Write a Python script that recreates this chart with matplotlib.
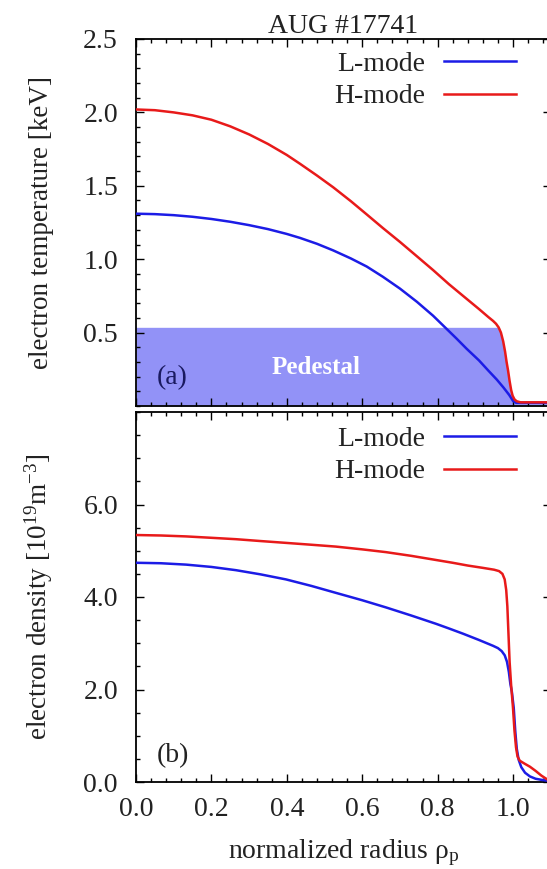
import numpy as np
import matplotlib
matplotlib.use("Agg")
import matplotlib.pyplot as plt
from matplotlib.ticker import MultipleLocator, FormatStrFormatter

# ---------------- data ----------------
title = "AUG #17741"
series_names = ["L-mode", "H-mode"]

# (a) electron temperature [keV]
rho_te_l = [0.0, 0.05, 0.1, 0.15, 0.2, 0.25, 0.3, 0.35, 0.4, 0.435, 0.48,
            0.523, 0.57, 0.612, 0.655, 0.70, 0.745, 0.788, 0.824, 0.85, 0.877,
            0.91, 0.935, 0.957, 0.975, 0.99, 1.0, 1.008, 1.1]
te_l = [1.31, 1.307, 1.30, 1.289, 1.274, 1.255, 1.232, 1.205, 1.172, 1.145,
        1.105, 1.06, 1.005, 0.95, 0.88, 0.80, 0.71, 0.615, 0.525, 0.46, 0.39,
        0.31, 0.24, 0.18, 0.125, 0.075, 0.035, 0.022, 0.022]

rho_te_h = [0.0, 0.05, 0.1, 0.15, 0.2, 0.25, 0.3, 0.35, 0.4, 0.435, 0.48,
            0.523, 0.57, 0.612, 0.655, 0.70, 0.745, 0.788, 0.83, 0.877, 0.91,
            0.935, 0.947, 0.955, 0.962, 0.968, 0.974, 0.979, 0.983, 0.987,
            0.991, 0.995, 0.999, 1.004, 1.01, 1.02, 1.1]
te_h = [2.02, 2.015, 2.00, 1.98, 1.95, 1.905, 1.85, 1.785, 1.71, 1.65, 1.57,
        1.49, 1.395, 1.305, 1.212, 1.118, 1.02, 0.926, 0.83, 0.73, 0.66,
        0.605, 0.58, 0.56, 0.535, 0.50, 0.44, 0.37, 0.30, 0.24,
        0.17, 0.11, 0.07, 0.045, 0.032, 0.025, 0.025]

pedestal_top = 0.536
pedestal_label = "Pedestal"

# (b) electron density [1e19 m^-3]
rho_ne_l = [0.0, 0.066, 0.133, 0.2, 0.265, 0.33, 0.398, 0.465, 0.53, 0.6,
            0.663, 0.73, 0.796, 0.83, 0.868, 0.91, 0.947, 0.96, 0.97, 0.978,
            0.984, 0.989, 0.993, 0.997, 1.002, 1.006, 1.01, 1.015, 1.022,
            1.032, 1.045, 1.06, 1.08, 1.1]
ne_l = [4.74, 4.73, 4.70, 4.65, 4.58, 4.49, 4.38, 4.24, 4.09, 3.93,
        3.775, 3.60, 3.42, 3.32, 3.205, 3.07, 2.945, 2.895, 2.83, 2.74,
        2.60, 2.38, 2.12, 1.95, 1.6, 1.1, 0.72, 0.48, 0.32,
        0.20, 0.12, 0.07, 0.04, 0.02]

rho_ne_h = [0.0, 0.066, 0.133, 0.2, 0.265, 0.33, 0.398, 0.465, 0.53, 0.6,
            0.663, 0.73, 0.796, 0.84, 0.88, 0.92, 0.95, 0.963, 0.972, 0.978,
            0.982, 0.985, 0.988, 0.991, 0.995, 1.0, 1.004, 1.008, 1.012,
            1.018, 1.03, 1.045, 1.06, 1.075, 1.09, 1.1]
ne_h = [5.34, 5.33, 5.31, 5.28, 5.25, 5.21, 5.17, 5.13, 5.09, 5.03,
        4.97, 4.89, 4.80, 4.74, 4.68, 4.63, 4.59, 4.56, 4.50, 4.38,
        4.15, 3.8, 3.2, 2.6, 2.1, 1.6, 1.1, 0.75, 0.55,
        0.46, 0.40, 0.33, 0.24, 0.14, 0.06, 0.03]

te_ticks = [0.5, 1.0, 1.5, 2.0, 2.5]
ne_ticks = [0.0, 2.0, 4.0, 6.0]
x_ticks = [0.0, 0.2, 0.4, 0.6, 0.8, 1.0]

# ---------------- style ----------------
plt.rcParams["font.family"] = ["Liberation Serif", "DejaVu Serif"]
plt.rcParams["mathtext.fontset"] = "custom"
plt.rcParams["mathtext.rm"] = "Liberation Serif"
plt.rcParams["mathtext.it"] = "Liberation Serif:italic"
plt.rcParams["mathtext.bf"] = "Liberation Serif:bold"

FS = 20
FS_Y = 19.5
BLUE = "#1c1ce6"
RED = "#e81a1a"
SHADE = "#9292f7"
TXT = "#222222"
LW = 1.8

W, H = 547, 869
fig = plt.figure(figsize=(W / 100, H / 100), dpi=100)


def rect(l, t, r, b):
    return [l / W, 1 - b / H, (r - l) / W, (b - t) / H]


ax1 = fig.add_axes(rect(136, 39, 550.7, 406))
ax2 = fig.add_axes(rect(136, 412, 550.7, 782))

for ax in (ax1, ax2):
    ax.set_xlim(0, 1.1)
    ax.set_xticks(x_ticks)
    ax.xaxis.set_minor_locator(MultipleLocator(0.04))
    ax.tick_params(which="both", direction="in", top=True, right=True,
                   colors="black", labelcolor=TXT, labelsize=FS, width=1.0)
    ax.tick_params(which="major", length=6)
    ax.tick_params(which="minor", length=3)
    ax.tick_params(axis="y", which="major", pad=13)
    ax.tick_params(axis="x", which="major", pad=11)
    for s in ax.spines.values():
        s.set_linewidth(1.3)

leg_kw = dict(loc="upper right", frameon=False, markerfirst=False,
              handlelength=2.6, handletextpad=0.68, labelspacing=0.27,
              borderpad=0, borderaxespad=0, fontsize=FS, labelcolor=TXT)

# ---- panel (a)
rte = np.array(rho_te_h)
ax1.fill_between(rte, 0, np.minimum(np.array(te_h), pedestal_top),
                 color=SHADE, lw=0, zorder=1)
ax1.plot(rho_te_l, te_l, color=BLUE, lw=LW, label=series_names[0], zorder=3)
ax1.plot(rho_te_h, te_h, color=RED, lw=LW, label=series_names[1], zorder=4)
ax1.set_ylim(0, 2.5)
ax1.set_yticks(te_ticks)
ax1.yaxis.set_minor_locator(MultipleLocator(0.1))
ax1.yaxis.set_major_formatter(FormatStrFormatter("%.1f"))
ax1.tick_params(axis="x", labelbottom=False)
ax1.set_title(title, fontsize=FS, color=TXT, pad=3)
ax1.set_ylabel("electron temperature [keV]", fontsize=FS_Y, color=TXT,
               va="center")
ax1.yaxis.set_label_coords(-0.227, 0.5)
ax1.text(0.477, 0.26, pedestal_label, color="white", fontsize=18,
         fontweight="bold", ha="center", va="center", zorder=5)
ax1.text(0.097, 0.19, "(a)", color="#1a1a60", fontsize=FS, ha="center",
         va="center", zorder=5)
ax1.legend(bbox_to_anchor=(0.916, 0.967), **leg_kw)

# ---- panel (b)
ax2.plot(rho_ne_l, ne_l, color=BLUE, lw=LW, label=series_names[0], zorder=3)
ax2.plot(rho_ne_h, ne_h, color=RED, lw=LW, label=series_names[1], zorder=4)
ax2.set_ylim(0, 8)
ax2.set_yticks(ne_ticks)
ax2.yaxis.set_minor_locator(MultipleLocator(0.5))
ax2.yaxis.set_major_formatter(FormatStrFormatter("%.1f"))
ax2.xaxis.set_major_formatter(FormatStrFormatter("%.1f"))
ax2.set_ylabel(r"electron density [10$^{19}$m$^{-3}$]", fontsize=FS_Y,
               color=TXT, va="center")
ax2.yaxis.set_label_coords(-0.235, 0.5)
ax2.set_xlabel(r"normalized radius $\mathrm{\rho}_\mathrm{p}$", fontsize=FS,
               color=TXT, labelpad=11)
ax2.text(0.097, 0.58, "(b)", color=TXT, fontsize=FS, ha="center",
         va="center", zorder=5)
ax2.legend(bbox_to_anchor=(0.916, 0.962), **leg_kw)

fig.savefig("out.png", dpi=100)
